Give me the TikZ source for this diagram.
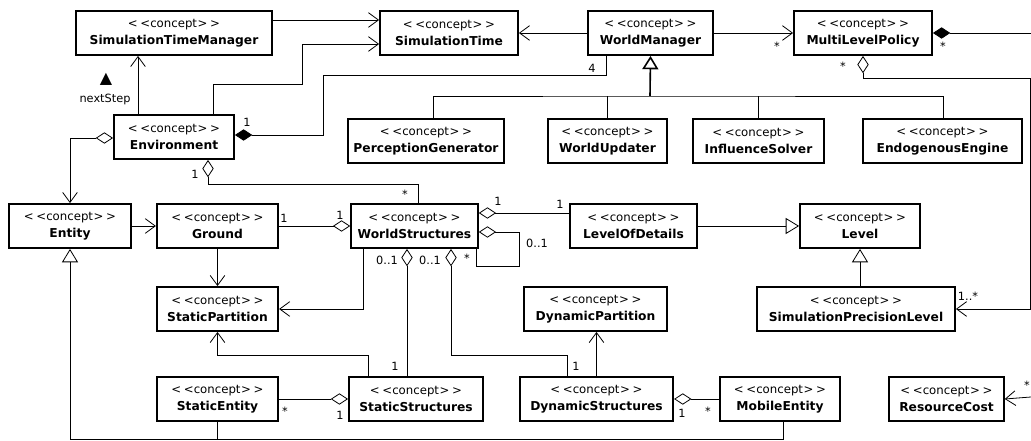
\documentclass[tikz,border=0pt]{standalone}
\usepackage{fontspec}
\setmainfont{DejaVu Sans}
\usetikzlibrary{arrows.meta}
\newcommand{\cpt}{{\fontsize{8.8}{12.5}\selectfont <\kern2pt<concept\kern0.5pt>\kern2pt>}}

\begin{document}
\begin{tikzpicture}[
    x=0.75pt, y=-0.75pt,
    concept/.style={rectangle, draw, line width=1.4pt, minimum height=33pt, inner sep=0pt, align=center, font=\fontsize{9.2}{12.5}\selectfont},
    lbl/.style={inner sep=0pt, font=\fontsize{8.5}{10}\selectfont},
    link/.style={line width=0.6pt},
    >={Straight Barb[length=7.5pt,width=11pt]},
    agg/.tip={Diamond[open,length=13pt,width=8.5pt]},
    cmp/.tip={Diamond[length=13pt,width=8.5pt]},
    gen/.tip={Triangle[open,length=10pt,width=12pt]}
]
\useasboundingbox (0,0) rectangle (1031,441);

% Simulation time and world management
\node[concept, minimum width=147pt] (stm) at (174,33) {\cpt\\\textbf{SimulationTimeManager}};
\node[concept, minimum width=103.5pt] (st) at (449,33) {\cpt\\\textbf{SimulationTime}};
\node[concept, minimum width=93.75pt] (wm) at (650.5,33) {\cpt\\\textbf{WorldManager}};
\node[concept, minimum width=103.5pt] (mlp) at (863,33) {\cpt\\\textbf{MultiLevelPolicy}};

\node[concept, minimum width=90pt] (env) at (174,137) {\cpt\\\textbf{Environment}};
\node[concept, minimum width=117pt] (pg) at (426,141) {\cpt\\\textbf{PerceptionGenerator}};
\node[concept, minimum width=89pt] (wu) at (607.5,141) {\cpt\\\textbf{WorldUpdater}};
\node[concept, minimum width=98pt] (infl) at (758.5,141) {\cpt\\\textbf{InfluenceSolver}};
\node[concept, minimum width=119pt] (ee) at (942.5,141) {\cpt\\\textbf{EndogenousEngine}};

% Structures and levels
\node[concept, minimum width=91.5pt] (entity) at (70,226) {\cpt\\\textbf{Entity}};
\node[concept, minimum width=91pt] (ground) at (217.5,226) {\cpt\\\textbf{Ground}};
\node[concept, minimum width=95pt] (ws) at (414.5,226) {\cpt\\\textbf{WorldStructures}};
\node[concept, minimum width=95pt] (lod) at (633.5,226) {\cpt\\\textbf{LevelOfDetails}};
\node[concept, minimum width=90pt] (level) at (860,226) {\cpt\\\textbf{Level}};

\node[concept, minimum width=91pt] (sp) at (217.5,309) {\cpt\\\textbf{StaticPartition}};
\node[concept, minimum width=107pt] (dp) at (595.5,309) {\cpt\\\textbf{DynamicPartition}};
\node[concept, minimum width=148.5pt] (spl) at (856,309) {\cpt\\\textbf{SimulationPrecisionLevel}};

\node[concept, minimum width=91pt] (se) at (217.5,399) {\cpt\\\textbf{StaticEntity}};
\node[concept, minimum width=100.5pt] (ss) at (416,399) {\cpt\\\textbf{StaticStructures}};
\node[concept, minimum width=115pt] (ds) at (596.5,399) {\cpt\\\textbf{DynamicStructures}};
\node[concept, minimum width=90pt] (me) at (780,399) {\cpt\\\textbf{MobileEntity}};
\node[concept, minimum width=86pt] (rc) at (946.5,399) {\cpt\\\textbf{ResourceCost}};

\coordinate (gbus) at (650,96);
\coordinate (ebus) at (70,439);
\coordinate (edge1) at (1031,33);
\coordinate (edge2) at (1031,397);

% top connectors
\draw[link, ->] (stm.east |- 0,20) -- (st.west |- 0,20);
\draw[link, ->] (138,0 |- env.north) -- (138,0 |- stm.south);
\draw[link, ->] (213,0 |- env.north) |- (302,84) |- (st.west |- 0,44);
\draw[link, cmp-] (env.east |- 0,135) -| (323,75) -| (606,0 |- wm.south);
\draw[link, ->] (wm.west) -- (st.east);
\draw[link, ->] (wm.east) -- (mlp.west);
\draw[link, cmp-] (mlp.east) -- (edge1);
\draw[link, agg->] (mlp.south) |- (1030,78) |- (spl.east);

% generalisation of the world manager
\draw[-gen, line width=1.2pt] (gbus) -- (wm.south);
\draw[link] (433,0 |- pg.north) |- (gbus) -| (943,0 |- ee.north);
\draw[link] (wu.north) -- (wu.north |- gbus);
\draw[link] (infl.north) -- (infl.north |- gbus);

% environment and structures
\draw[link, agg->] (env.west |- 0,138) -| (entity.north);
\draw[link, agg-] (208,0 |- env.south) |- (418,184) -- (418,0 |- ws.north);
\draw[link, ->] (entity.east) -- (ground.west);
\draw[link, agg-] (ws.west) -- (ground.east);
\draw[link, ->] (ground.south) -- (sp.north);
\draw[link, ->] (363,0 |- ws.south) |- (sp.east);
\draw[link, agg-] (ws.east |- 0,213) -- (lod.west |- 0,213);
\draw[link, agg-] (ws.east |- 0,232) -| (519,266) -| (476,0 |- ws.south);
\draw[link, agg-] (407,0 |- ws.south) -- (407,0 |- ss.north);
\draw[link, agg-] (451,0 |- ws.south) |- (567,355) -- (567,0 |- ds.north);
\draw[link, -gen] (lod.east) -- (level.west);
\draw[link, -gen] (level.south |- spl.north) -- (level.south);
\draw[link, ->] (368,0 |- ss.north) |- (sp.south |- 0,355) -- (sp.south);
\draw[link, ->] (ds.north) -- (ds.north |- dp.south);
\draw[link, agg-] (ss.west) -- (se.east);
\draw[link, agg-] (ds.east) -- (me.west);
\draw[link, -gen] (ebus) -- (entity.south);
\draw[link] (se.south) |- (ebus);
\draw[link] (783,0 |- me.south) |- (ebus);
\draw[link, ->] (edge2) -- (rc.east);

% multiplicities
\node[font=\fontsize{12}{12}\selectfont, inner sep=0pt] (tri) at (106,79) {▲};
\node[lbl] (nstep) at (105,99) {nextStep};
\node[lbl] (m1) at (247,122) {1};
\node[lbl] (m2) at (592,68) {4};
\node[lbl] (m3) at (777,46) {*};
\node[lbl] (m4) at (943,46) {*};
\node[lbl] (m5) at (843,66) {*};
\node[lbl] (m6) at (968,296) {1..*};
\node[lbl] (m7) at (195,174) {1};
\node[lbl] (m8) at (405,194) {*};
\node[lbl] (m9) at (284,218) {1};
\node[lbl] (m10) at (340,215) {1};
\node[lbl] (m11) at (498,201) {1};
\node[lbl] (m12) at (560,204) {1};
\node[lbl] (m13) at (537,243) {0..1};
\node[lbl] (m14) at (467,258) {*};
\node[lbl] (m15) at (387,260) {0..1};
\node[lbl] (m16) at (430,260) {0..1};
\node[lbl] (m17) at (395,366) {1};
\node[lbl] (m18) at (576,366) {1};
\node[lbl] (m19) at (285,411) {*};
\node[lbl] (m20) at (340,415) {1};
\node[lbl] (m21) at (682,413) {1};
\node[lbl] (m22) at (708,411) {*};
\node[lbl] (m23) at (1027,385) {*};
\end{tikzpicture}
\end{document}
